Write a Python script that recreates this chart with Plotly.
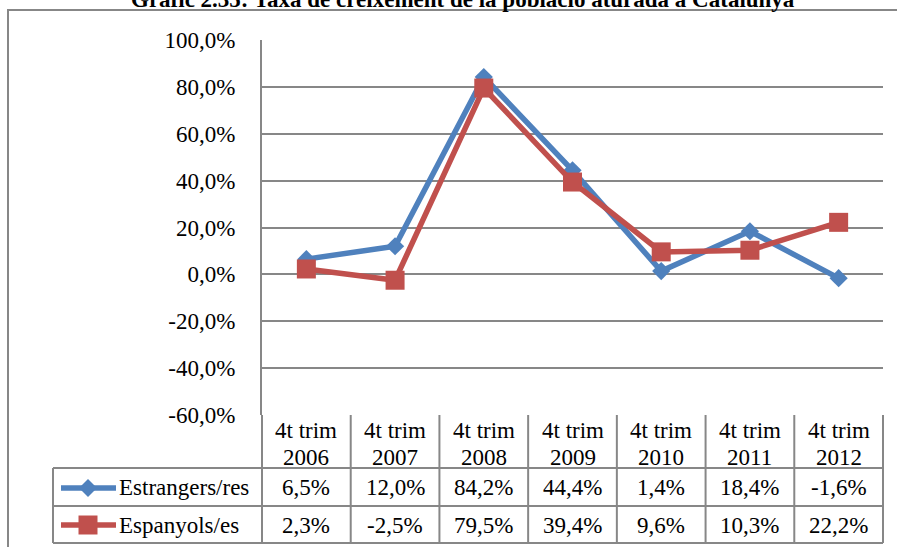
import plotly.graph_objects as go

categories = ["4t trim 2006", "4t trim 2007", "4t trim 2008", "4t trim 2009",
              "4t trim 2010", "4t trim 2011", "4t trim 2012"]
estrangers = [6.5, 12.0, 84.2, 44.4, 1.4, 18.4, -1.6]
espanyols = [2.3, -2.5, 79.5, 39.4, 9.6, 10.3, 22.2]
series_names = ["Estrangers/res", "Espanyols/es"]
y_ticks = [-60, -40, -20, 0, 20, 40, 60, 80, 100]
title_text = "Gràfic 2.35: Taxa de creixement de la població aturada a Catalunya"

W, H = 897, 547
L, R, T, B = 262, 883, 40, 415
BLUE = "#4F81BD"
RED = "#C0504D"
GRID = "#878787"
FONT = "Liberation Serif"
FS = 23


def px_y(py):
    return (B - py) / (B - T)


def px_x(px):
    return (px - L) / (R - L)


def fmt(v):
    return f"{v:.1f}%".replace(".", ",")


xs = list(range(len(categories)))

fig = go.Figure()
fig.add_trace(go.Scatter(x=xs, y=estrangers, mode="lines+markers", name=series_names[0],
                         line=dict(color=BLUE, width=5.5),
                         marker=dict(symbol="diamond", size=14, color=BLUE),
                         cliponaxis=False, showlegend=False))
fig.add_trace(go.Scatter(x=xs, y=espanyols, mode="lines+markers", name=series_names[1],
                         line=dict(color=RED, width=5.5),
                         marker=dict(symbol="square", size=19, color=RED),
                         cliponaxis=False, showlegend=False))

shapes = []
line_style = dict(color=GRID, width=2)
# outer border
shapes.append(dict(type="rect", xref="paper", yref="paper",
                   x0=px_x(8), x1=px_x(W + 20), y0=px_y(H + 20), y1=px_y(10),
                   line=line_style, fillcolor="rgba(0,0,0,0)", layer="below"))
# table vertical lines
n = len(categories)
for k in range(n + 1):
    shapes.append(dict(type="line", xref="paper", yref="paper",
                       x0=k / n, x1=k / n, y0=px_y(415), y1=px_y(543), line=line_style))
shapes.append(dict(type="line", xref="paper", yref="paper",
                   x0=px_x(53), x1=px_x(53), y0=px_y(468), y1=px_y(543), line=line_style))
for py in [468, 506, 543]:
    shapes.append(dict(type="line", xref="paper", yref="paper",
                       x0=px_x(53), x1=1, y0=px_y(py), y1=px_y(py), line=line_style))

# legend samples
row_y = [488, 525]
colors = [BLUE, RED]
for i in range(2):
    yy = px_y(row_y[i])
    shapes.append(dict(type="line", xref="paper", yref="paper",
                       x0=px_x(61), x1=px_x(116), y0=yy, y1=yy,
                       line=dict(color=colors[i], width=5.5)))
# diamond
cx, cy = 88, row_y[0]
d = 9
shapes.append(dict(type="path", xref="paper", yref="paper",
                   path=f"M {px_x(cx - d)} {px_y(cy)} L {px_x(cx)} {px_y(cy - d)} L {px_x(cx + d)} {px_y(cy)} L {px_x(cx)} {px_y(cy + d)} Z",
                   fillcolor=BLUE, line=dict(color=BLUE, width=0)))
cx, cy = 88, row_y[1]
s = 9.5
shapes.append(dict(type="rect", xref="paper", yref="paper",
                   x0=px_x(cx - s), x1=px_x(cx + s), y0=px_y(cy + s), y1=px_y(cy - s),
                   fillcolor=RED, line=dict(color=RED, width=0)))

annotations = []
tfont = dict(family=FONT, size=FS, color="black")
for i, c in enumerate(categories):
    top, year = c.rsplit(" ", 1)
    annotations.append(dict(x=i, xref="x", y=px_y(430), yref="paper", text=top,
                            showarrow=False, font=tfont, xanchor="center", yanchor="middle"))
    annotations.append(dict(x=i, xref="x", y=px_y(457), yref="paper", text=year,
                            showarrow=False, font=tfont, xanchor="center", yanchor="middle"))
    for j, ser in enumerate([estrangers, espanyols]):
        annotations.append(dict(x=i, xref="x", y=px_y(row_y[j]), yref="paper", text=fmt(ser[i]),
                                showarrow=False, font=tfont, xanchor="center", yanchor="middle"))
for j, nm in enumerate(series_names):
    annotations.append(dict(x=px_x(117), xref="paper", y=px_y(row_y[j]), yref="paper", text=nm,
                            showarrow=False, font=tfont, xanchor="left", yanchor="middle"))
annotations.append(dict(x=px_x(463), xref="paper", y=px_y(-1), yref="paper",
                        text=f"<b>{title_text}</b>", showarrow=False, font=tfont,
                        xanchor="center", yanchor="middle"))

fig.update_layout(
    width=W, height=H,
    margin=dict(l=L, r=W - R, t=T, b=H - B, pad=0),
    paper_bgcolor="white", plot_bgcolor="white",
    shapes=shapes, annotations=annotations,
    font=dict(family=FONT, size=FS, color="black"),
    xaxis=dict(range=[-0.5, n - 0.5], showgrid=False, zeroline=False,
               showticklabels=False, ticks="", showline=False, fixedrange=True),
    yaxis=dict(range=[y_ticks[0], y_ticks[-1]], tickvals=y_ticks,
               ticktext=[fmt(v) for v in y_ticks], showgrid=True, gridcolor=GRID,
               gridwidth=2, zeroline=False, showline=True, linecolor=GRID, linewidth=2,
               ticks="", ticklabelstandoff=20, tickfont=dict(family=FONT, size=FS),
               fixedrange=True),
)

fig.write_html("out.html", config={"displayModeBar": False},
               post_script="document.body.style.margin='0px';document.body.style.overflow='hidden';")
